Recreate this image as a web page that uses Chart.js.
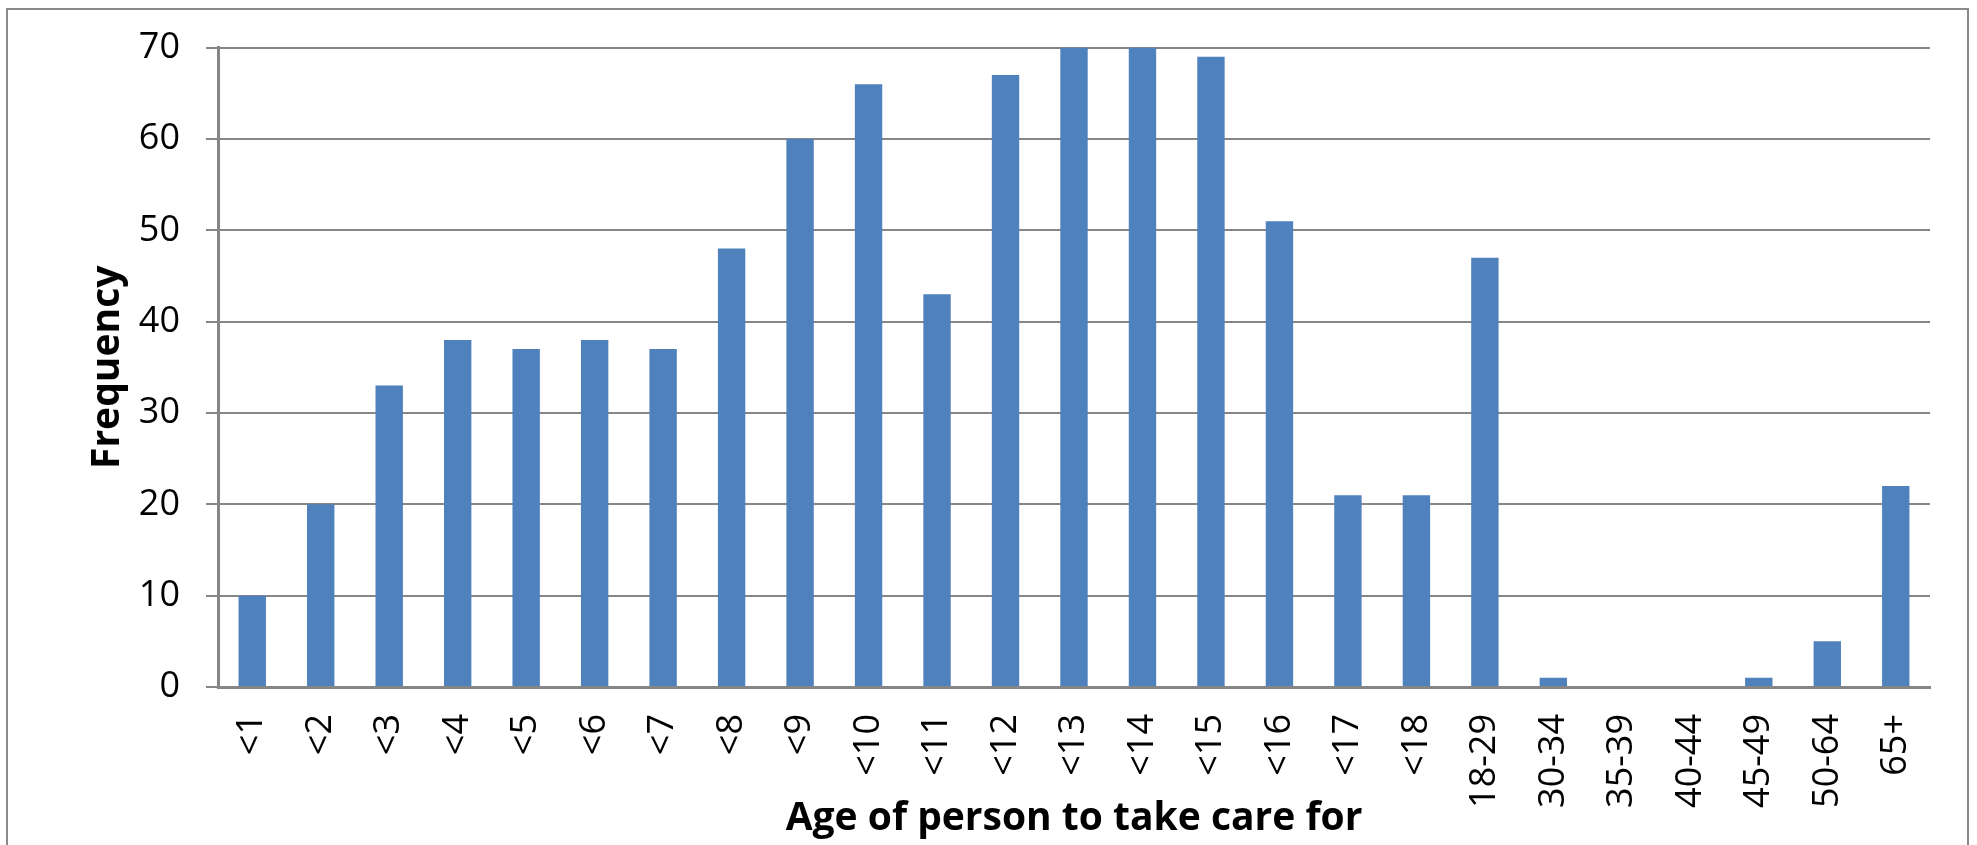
<!DOCTYPE html>
<html>
<head>
<meta charset="utf-8">
<script src="https://cdn.jsdelivr.net/npm/chart.js@4/dist/chart.umd.min.js"></script>
<style>
  html, body { margin: 0; padding: 0; background: #ffffff; }
  #wrap { position: relative; width: 1977px; height: 845px; overflow: hidden; background: #ffffff; }
  #frame { position: absolute; left: 6px; top: 8px; width: 1963px; height: 900px; border: 2px solid #8a8a8a; box-sizing: border-box; }
  #c { position: absolute; left: 0; top: 0; }
</style>
</head>
<body>
<div id="wrap">
  <div id="frame"></div>
  <canvas id="c" width="1977" height="845"></canvas>
</div>
<script>
const categories = ["<1","<2","<3","<4","<5","<6","<7","<8","<9","<10","<11","<12","<13","<14","<15","<16","<17","<18","18-29","30-34","35-39","40-44","45-49","50-64","65+"];
const frequency = [10,20,33,38,37,38,37,48,60,66,43,67,70,70,69,51,21,21,47,1,0,0,1,5,22];
const yTicks = [0,10,20,30,40,50,60,70];
const xTitle = "Age of person to take care for";
const yTitle = "Frequency";

const gridGray = "#868686";
const tickFont = { family: "'Open Sans', 'Noto Sans', sans-serif", size: 36 };
const titleFont = { family: "'Open Sans', 'Noto Sans', sans-serif", size: 39, weight: "bold" };

new Chart(document.getElementById("c"), {
  type: "bar",
  data: {
    labels: categories,
    datasets: [{
      label: yTitle,
      data: frequency,
      backgroundColor: "#4F81BD",
      borderWidth: 0,
      barPercentage: 0.4,
      categoryPercentage: 1.0
    }]
  },
  options: {
    responsive: false,
    animation: false,
    devicePixelRatio: 1,
    layout: { padding: { left: 0, top: 43, right: 47, bottom: 0 } },
    plugins: { legend: { display: false }, tooltip: { enabled: false }, title: { display: false } },
    scales: {
      x: {
        grid: { display: false, drawTicks: false },
        border: { display: true, color: gridGray, width: 3 },
        ticks: { color: "#000000", font: tickFont, minRotation: 90, maxRotation: 90, autoSkip: false, padding: 27 },
        title: { display: true, text: xTitle, color: "#000000", font: titleFont, padding: { top: 0, bottom: 3 } },
        afterFit: (s) => { s.height = 158; }
      },
      y: {
        min: 0, max: 70,
        afterBuildTicks: (s) => { s.ticks = yTicks.map(v => ({ value: v })); },
        grid: { color: gridGray, lineWidth: 2, tickLength: 12, drawTicks: true },
        border: { display: true, color: gridGray, width: 3 },
        ticks: { color: "#000000", font: tickFont, padding: 26 },
        title: { display: true, text: yTitle, color: "#000000", font: titleFont, padding: { top: 84, bottom: 0 } },
        afterFit: (s) => { s.width = 218; }
      }
    }
  }
});
</script>
</body>
</html>
